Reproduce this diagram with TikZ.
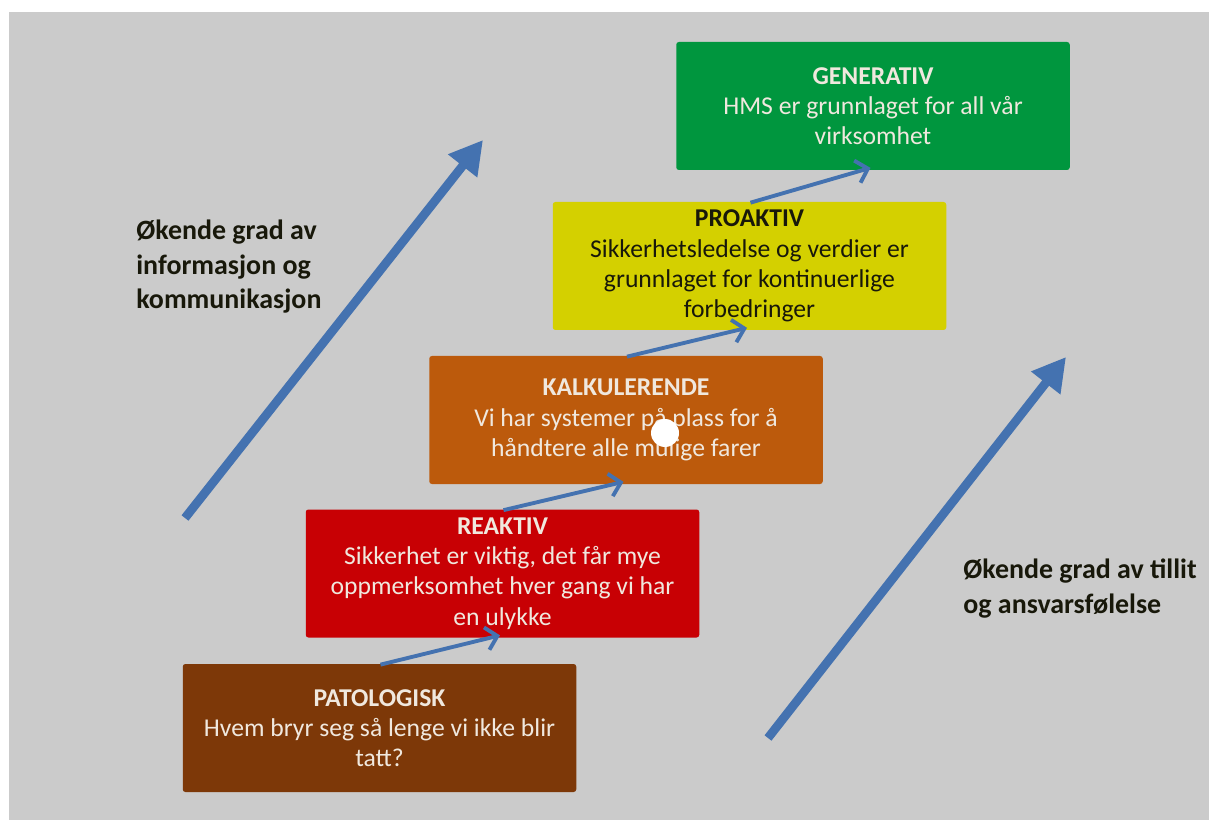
\documentclass[tikz,border=0pt]{standalone}
\usepackage{fontspec}
\setmainfont{Carlito}
\usetikzlibrary{arrows.meta}

\definecolor{slidegray}{RGB}{203,203,203}
\definecolor{arrowblue}{RGB}{68,114,176}
\definecolor{stagetext}{RGB}{240,232,222}
\definecolor{darktext}{RGB}{24,24,10}
\definecolor{generativgreen}{RGB}{0,150,62}
\definecolor{proaktivyellow}{RGB}{212,208,0}
\definecolor{kalkorange}{RGB}{188,90,12}
\definecolor{reaktivred}{RGB}{200,0,4}
\definecolor{patobrown}{RGB}{125,56,8}

\begin{document}
\begin{tikzpicture}[
  stage/.style={rectangle, rounded corners=1.5pt, minimum width=7.87cm, minimum height=2.56cm,
    inner sep=0pt, align=center, text=stagetext, font=\fontsize{14.6}{17.2}\selectfont},
  steparrow/.style={draw=arrowblue, line width=2.2pt, -{Straight Barb[length=2.2mm,width=4.6mm]}},
  trendarrow/.style={draw=arrowblue, line width=5pt, -{Triangle[length=6.6mm,width=7mm]}},
  trendlabel/.style={inner sep=0pt, align=left, text=darktext, font=\fontsize{15.9}{19.5}\selectfont\bfseries}
]
% page and slide background
\fill[white] (0,0) rectangle (24.18,-16.4);
\fill[slidegray] (0.18,-0.24) rectangle (24.18,-16.4);

% the five steps
\node[stage, fill=patobrown] (patologisk) at (7.59,-14.56)
  {\textbf{PATOLOGISK}\\Hvem bryr seg så lenge vi ikke blir\\tatt?};
\node[stage, fill=reaktivred] (reaktiv) at (10.05,-11.47)
  {\textbf{REAKTIV}\\Sikkerhet er viktig, det får mye\\oppmerksomhet hver gang vi har\\en ulykke};
\node[stage, fill=kalkorange] (kalkulerende) at (12.52,-8.40)
  {\textbf{KALKULERENDE}\\Vi har systemer på plass for å\\håndtere alle mulige farer};
\node[stage, fill=proaktivyellow, text=darktext] (proaktiv) at (14.99,-5.32)
  {\textbf{PROAKTIV}\\Sikkerhetsledelse og verdier er\\grunnlaget for kontinuerlige\\forbedringer};
\node[stage, fill=generativgreen] (generativ) at (17.46,-2.12)
  {\textbf{GENERATIV}\\HMS er grunnlaget for all vår\\virksomhet};

% small arrows from step to step
\draw[steparrow] ([xshift=0.02cm,yshift=-0.02cm]patologisk.north) -- ([xshift=-0.05cm,yshift=0.05cm]reaktiv.south);
\draw[steparrow] ([xshift=0.02cm,yshift=-0.02cm]reaktiv.north) -- ([xshift=-0.05cm,yshift=0.05cm]kalkulerende.south);
\draw[steparrow] ([xshift=0.02cm,yshift=-0.02cm]kalkulerende.north) -- ([xshift=-0.05cm,yshift=0.05cm]proaktiv.south);
\draw[steparrow] ([xshift=0.02cm,yshift=-0.02cm]proaktiv.north) -- ([xshift=-0.05cm,yshift=0.05cm]generativ.south);

% pointer dot
\fill[white] (13.3,-8.66) circle (0.28);

% long trend arrows with their labels
\coordinate (infostart) at (3.70,-10.36);
\coordinate (infoend) at (9.66,-2.80);
\draw[trendarrow] (infostart) -- (infoend);
\node[trendlabel, anchor=north west] (infolabel) at (2.72,-4.40)
  {Økende grad av\\informasjon og\\kommunikasjon};

\coordinate (tillitstart) at (15.36,-14.76);
\coordinate (tillitend) at (21.32,-7.14);
\draw[trendarrow] (tillitstart) -- (tillitend);
\node[trendlabel, anchor=north west] (tillitlabel) at (19.26,-11.18)
  {Økende grad av tillit\\og ansvarsfølelse};

\end{tikzpicture}
\end{document}
